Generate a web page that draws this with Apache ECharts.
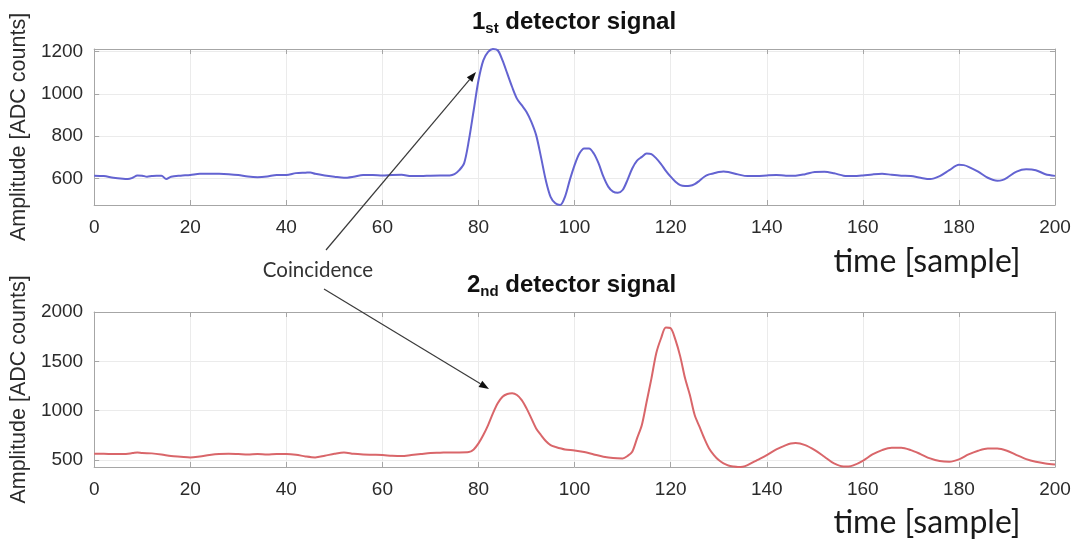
<!DOCTYPE html>
<html>
<head>
<meta charset="utf-8">
<script src="https://cdn.jsdelivr.net/npm/echarts@6/dist/echarts.min.js"></script>
<style>
  html, body { margin: 0; padding: 0; background: #ffffff; }
  #chart { width: 1077px; height: 542px; }
</style>
</head>
<body>
<div id="chart"></div>
<script>
// Sample axis ticks shared by both traces
const sampleTicks = [0, 20, 40, 60, 80, 100, 120, 140, 160, 180, 200];

// 1st detector trace: sample index and amplitude (ADC counts)
const det1Samples = [0, 2, 4, 6, 7, 8, 9, 10, 11, 12, 13, 14, 15, 16, 18, 20, 22, 24, 26, 28,
  30, 32, 34, 36, 38, 40, 42, 44, 45, 46, 48, 50, 52, 54, 56, 58, 60, 62, 64, 66,
  68, 70, 72, 74, 75, 76, 77, 78, 79, 80, 81, 82, 83, 84, 85, 86, 87, 88, 89, 90,
  91, 92, 93, 94, 95, 96, 97, 98, 99, 100, 101, 102, 103, 104, 105, 106, 107, 108, 109, 110,
  111, 112, 113, 114, 115, 116, 117, 118, 119, 120, 121, 122, 123, 124, 125, 126, 127, 128, 129, 130,
  131, 132, 134, 136, 138, 140, 142, 144, 146, 148, 150, 152, 154, 156, 158, 160, 162, 164, 166, 168,
  170, 172, 174, 176, 178, 180, 181, 182, 184, 186, 188, 189, 190, 192, 194, 196, 198, 200];
const det1Values = [613, 611, 603, 598, 597, 603, 614, 613, 608, 611, 613, 613, 597, 608, 613, 616, 622, 622, 622, 620,
  616, 609, 606, 609, 616, 616, 625, 627, 628, 622, 614, 608, 603, 608, 616, 616, 614, 616, 617, 611,
  611, 613, 614, 614, 620, 639, 671, 781, 923, 1065, 1159, 1199, 1213, 1207, 1159, 1096, 1033, 978, 947, 915,
  868, 805, 702, 592, 513, 482, 474, 513, 592, 663, 718, 742, 742, 718, 671, 608, 561, 537, 532, 545,
  592, 647, 684, 702, 718, 715, 695, 668, 636, 608, 584, 568, 564, 565, 573, 589, 608, 619, 624, 630,
  633, 630, 619, 611, 611, 614, 616, 613, 613, 620, 630, 631, 624, 613, 611, 614, 619, 622, 617, 613,
  611, 603, 597, 611, 639, 665, 663, 655, 632, 603, 589, 592, 603, 632, 643, 639, 620, 612];

// 2nd detector trace: sample index and amplitude (ADC counts)
const det2Samples = [0, 2, 4, 6, 8, 9, 10, 12, 14, 16, 18, 20, 22, 24, 26, 28, 30, 32, 34, 36,
  38, 40, 42, 44, 46, 48, 50, 52, 54, 56, 58, 60, 62, 64, 66, 68, 70, 72, 74, 76,
  78, 79, 80, 81, 82, 83, 84, 85, 86, 87, 88, 89, 90, 91, 92, 93, 94, 95, 96, 98,
  100, 102, 104, 106, 108, 110, 111, 112, 113, 114, 115, 116, 117, 118, 119, 120, 121, 122, 123, 124,
  125, 126, 127, 128, 129, 130, 131, 132, 133, 134, 135, 136, 138, 140, 142, 144, 145, 146, 148, 150,
  152, 154, 156, 157, 158, 160, 162, 164, 166, 168, 170, 172, 174, 176, 178, 180, 182, 184, 186, 188,
  190, 192, 194, 196, 198, 200];
const det2Values = [564, 564, 561, 561, 571, 578, 571, 568, 557, 541, 534, 527, 537, 551, 561, 564, 561, 557, 561, 557,
  561, 561, 554, 537, 527, 544, 564, 578, 564, 557, 554, 551, 544, 541, 551, 561, 571, 574, 578, 578,
  581, 608, 669, 754, 855, 973, 1075, 1142, 1169, 1176, 1159, 1108, 1024, 923, 821, 754, 693, 652, 634, 608,
  598, 581, 557, 534, 520, 517, 541, 585, 720, 855, 1091, 1328, 1582, 1734, 1842, 1835, 1717, 1548, 1328, 1159,
  956, 838, 720, 618, 551, 500, 466, 446, 436, 430, 433, 449, 500, 551, 608, 652, 669, 672, 652, 601,
  534, 466, 436, 436, 446, 493, 557, 601, 625, 625, 601, 561, 517, 490, 483, 507, 557, 595, 618, 618,
  595, 551, 510, 483, 466, 456];

// Amplitude tick labels and visible ranges
const det1Ticks = [600, 800, 1000, 1200];
const det2Ticks = [500, 1000, 1500, 2000];
const det1Range = [474, 1213];
const det2Range = [430, 2000];

const FRAME = '#a6a6a6';
const GRIDLINE = '#ebebeb';
const LABEL = '#2b2b2b';
const SANS = 'Liberation Sans';
const plain = v => String(v);

function sampleAxes(gi) {
  const base = {
    type: 'value', gridIndex: gi, min: sampleTicks[0], max: sampleTicks[sampleTicks.length - 1],
    interval: sampleTicks[1] - sampleTicks[0],
    axisLine: { show: true, onZero: false, lineStyle: { color: FRAME, width: 1 } },
    axisTick: { show: true, inside: true, length: 5, lineStyle: { color: FRAME } }
  };
  return [
    Object.assign({}, base, {
      position: 'bottom',
      axisLabel: { color: LABEL, fontSize: 19, fontFamily: SANS, margin: 13, formatter: plain },
      splitLine: { show: true, lineStyle: { color: GRIDLINE, width: 1 } }
    }),
    Object.assign({}, base, {
      position: 'top',
      axisLabel: { show: false },
      splitLine: { show: false }
    })
  ];
}

function amplitudeAxes(gi, range, ticks) {
  const base = {
    type: 'value', gridIndex: gi, min: range[0], max: range[1],
    axisLine: { show: true, onZero: false, lineStyle: { color: FRAME, width: 1 } },
    axisTick: { show: true, inside: true, length: 5, customValues: ticks, lineStyle: { color: FRAME } }
  };
  return [
    Object.assign({}, base, {
      position: 'left',
      name: 'Amplitude [ADC counts]',
      nameLocation: 'middle',
      nameGap: 51,
      nameTextStyle: { color: LABEL, fontSize: 21.5, fontFamily: SANS },
      axisLabel: { customValues: ticks, color: LABEL, fontSize: 19, fontFamily: SANS, margin: 11, formatter: plain },
      splitLine: { show: true, lineStyle: { color: GRIDLINE, width: 1 } }
    }),
    Object.assign({}, base, {
      position: 'right',
      axisLabel: { show: false },
      splitLine: { show: false }
    })
  ];
}

function titleRich() {
  const big = { fontSize: 24, fontWeight: 'bold', fontFamily: SANS, color: '#111', lineHeight: 26, verticalAlign: 'top' };
  return {
    a: big,
    b: { fontSize: 15, fontWeight: 'bold', fontFamily: SANS, color: '#111', lineHeight: 15, padding: [17, 0, 0, 0], verticalAlign: 'bottom' },
    c: big
  };
}

// Arrow from the annotation text to a detector pulse
function arrow(x1, y1, x2, y2) {
  const ang = Math.atan2(y2 - y1, x2 - x1);
  const len = 10, half = 3.6;
  const bx = x2 - len * Math.cos(ang), by = y2 - len * Math.sin(ang);
  const px = -Math.sin(ang) * half, py = Math.cos(ang) * half;
  return [
    { type: 'line', z: 100, silent: true, shape: { x1: x1, y1: y1, x2: bx, y2: by },
      style: { stroke: '#3a3a3a', lineWidth: 1.2 } },
    { type: 'polygon', z: 100, silent: true,
      shape: { points: [[x2, y2], [bx + px, by + py], [bx - px, by - py]] },
      style: { fill: '#111' } }
  ];
}

const chart = echarts.init(document.getElementById('chart'), null, { renderer: 'canvas' });

chart.setOption({
  animation: false,
  backgroundColor: '#ffffff',
  title: [
    { text: '{a|1}{b|st}{c| detector signal}', left: 472, top: 10, padding: 0, textStyle: { rich: titleRich() } },
    { text: '{a|2}{b|nd}{c| detector signal}', left: 467, top: 273, padding: 0, textStyle: { rich: titleRich() } }
  ],
  grid: [
    { left: 94, right: 22, top: 49, height: 156, containLabel: false },
    { left: 94, right: 22, top: 312, height: 155, containLabel: false }
  ],
  xAxis: sampleAxes(0).concat(sampleAxes(1)),
  yAxis: amplitudeAxes(0, det1Range, det1Ticks).concat(amplitudeAxes(1, det2Range, det2Ticks)),
  series: [
    {
      name: '1st detector', type: 'line', xAxisIndex: 0, yAxisIndex: 0,
      data: det1Samples.map((s, i) => [s, det1Values[i]]),
      showSymbol: false, smooth: 0.3, silent: true,
      lineStyle: { color: '#6363d1', width: 2 }
    },
    {
      name: '2nd detector', type: 'line', xAxisIndex: 2, yAxisIndex: 2,
      data: det2Samples.map((s, i) => [s, det2Values[i]]),
      showSymbol: false, smooth: 0.3, silent: true,
      lineStyle: { color: '#d9666a', width: 2 }
    }
  ],
  graphic: [
    { type: 'text', x: 927, y: 262, z: 100, silent: true,
      style: { text: 'time [sample]', fontSize: 32, fontFamily: 'Lato', fill: '#1a1a1a', align: 'center', verticalAlign: 'middle' } },
    { type: 'text', x: 927, y: 523, z: 100, silent: true,
      style: { text: 'time [sample]', fontSize: 32, fontFamily: 'Lato', fill: '#1a1a1a', align: 'center', verticalAlign: 'middle' } },
    { type: 'text', x: 318, y: 270, z: 100, silent: true,
      style: { text: 'Coincidence', fontSize: 20.5, fontFamily: 'Lato', fill: '#333', align: 'center', verticalAlign: 'middle' } }
  ].concat(arrow(326, 250, 476, 72)).concat(arrow(324, 289, 489, 389))
});
</script>
</body>
</html>
